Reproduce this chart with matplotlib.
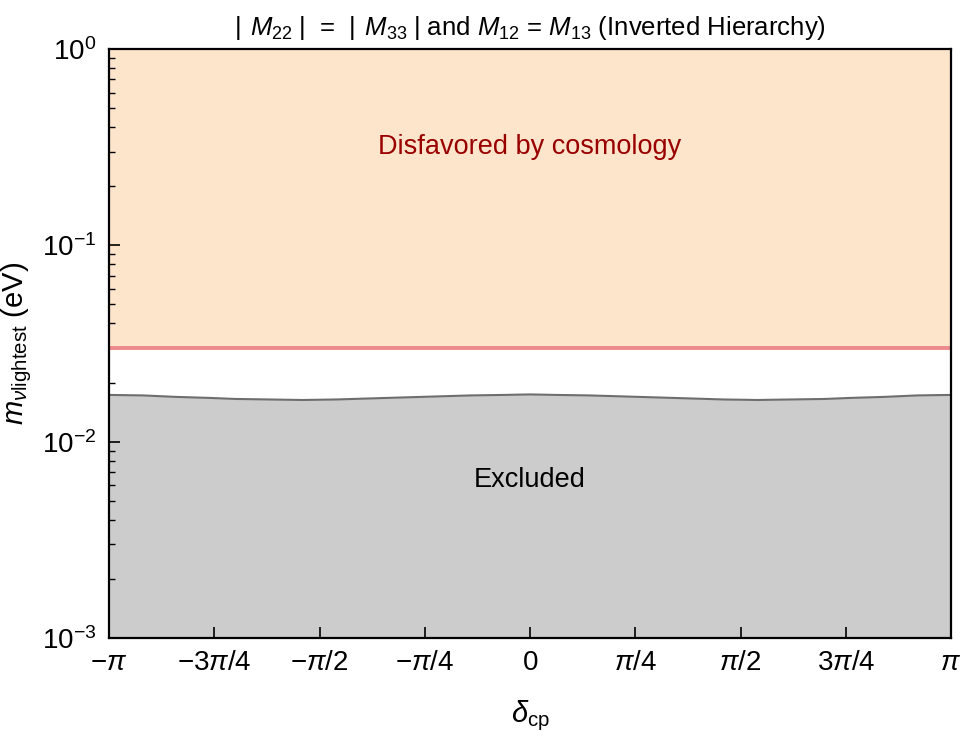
import numpy as np
import matplotlib
matplotlib.use("Agg")
import matplotlib.pyplot as plt

plt.rcParams['font.family'] = ['Liberation Sans', 'DejaVu Sans']
plt.rcParams['mathtext.fontset'] = 'custom'
plt.rcParams['mathtext.rm'] = 'Liberation Sans'
plt.rcParams['mathtext.it'] = 'Liberation Sans:italic'
plt.rcParams['mathtext.bf'] = 'Liberation Sans:bold'

# boundary of the excluded region
delta_cp = np.array([-1.00, -0.92, -0.84, -0.76, -0.70, -0.62, -0.54, -0.46, -0.38,
                     -0.30, -0.22, -0.14, -0.06, 0.00, 0.06, 0.14, 0.22, 0.30,
                     0.38, 0.46, 0.54, 0.62, 0.70, 0.76, 0.84, 0.92, 1.00]) * np.pi
m_bound = np.array([0.0173, 0.0172, 0.0169, 0.0167, 0.0165, 0.0164, 0.0163, 0.0164, 0.0166,
                    0.0168, 0.0170, 0.0172, 0.0173, 0.0174, 0.0173, 0.0172, 0.0170, 0.0168,
                    0.0166, 0.0164, 0.0163, 0.0164, 0.0165, 0.0167, 0.0169, 0.0172, 0.0173])
m_cosmo = 0.03
y_min, y_max = 1e-3, 1.0

tick_pos = np.array([-1, -0.75, -0.5, -0.25, 0, 0.25, 0.5, 0.75, 1]) * np.pi
tick_labels = [r'$-\pi$', r'$-3\pi/4$', r'$-\pi/2$', r'$-\pi/4$', r'$0$',
               r'$\pi/4$', r'$\pi/2$', r'$3\pi/4$', r'$\pi$']

fig = plt.figure(figsize=(9.65, 7.36), dpi=100)
ax = fig.add_axes([0.113, 0.1332, 0.8725, 0.8002])

ax.fill_between([-np.pi, np.pi], m_cosmo, y_max, color='#fde5cc', lw=0)
ax.axhline(m_cosmo, color='#ec8a8c', lw=2.8)
ax.fill_between(delta_cp, y_min, m_bound, color='#cccccc', lw=0)
ax.plot(delta_cp, m_bound, color='#6e6e6e', lw=1.5)

ax.text(0, 0.317, 'Disfavored by cosmology', color='#990000', fontsize=19.5,
        ha='center', va='center')
ax.text(0, 0.00635, 'Excluded', color='black', fontsize=19.5, ha='center', va='center')

ax.set_yscale('log')
ax.set_xlim(-np.pi, np.pi)
ax.set_ylim(y_min, y_max)
ax.set_xticks(tick_pos)
ax.set_xticklabels(tick_labels)
ax.tick_params(axis='both', which='major', direction='in', length=8, width=1.2,
               labelsize=20, pad=9, top=False, right=False)
ax.tick_params(axis='y', which='minor', direction='in', length=4.5, width=1.0,
               right=False)
for sp in ax.spines.values():
    sp.set_linewidth(1.6)

ax.set_xlabel(r'$\delta_{\mathrm{cp}}$', fontsize=21, labelpad=16)
ax.set_ylabel(r'$m_{\nu\mathrm{lightest}}$ (eV)', fontsize=21, labelpad=6)
ax.set_title(r'$|\;\,M_{22}\;|$  =  $|\;\,M_{33}\;|$ and $M_{12}$ = $M_{13}$ (Inverted Hierarchy)',
             fontsize=18.5, pad=10)

fig.savefig('out.png', dpi=100)
